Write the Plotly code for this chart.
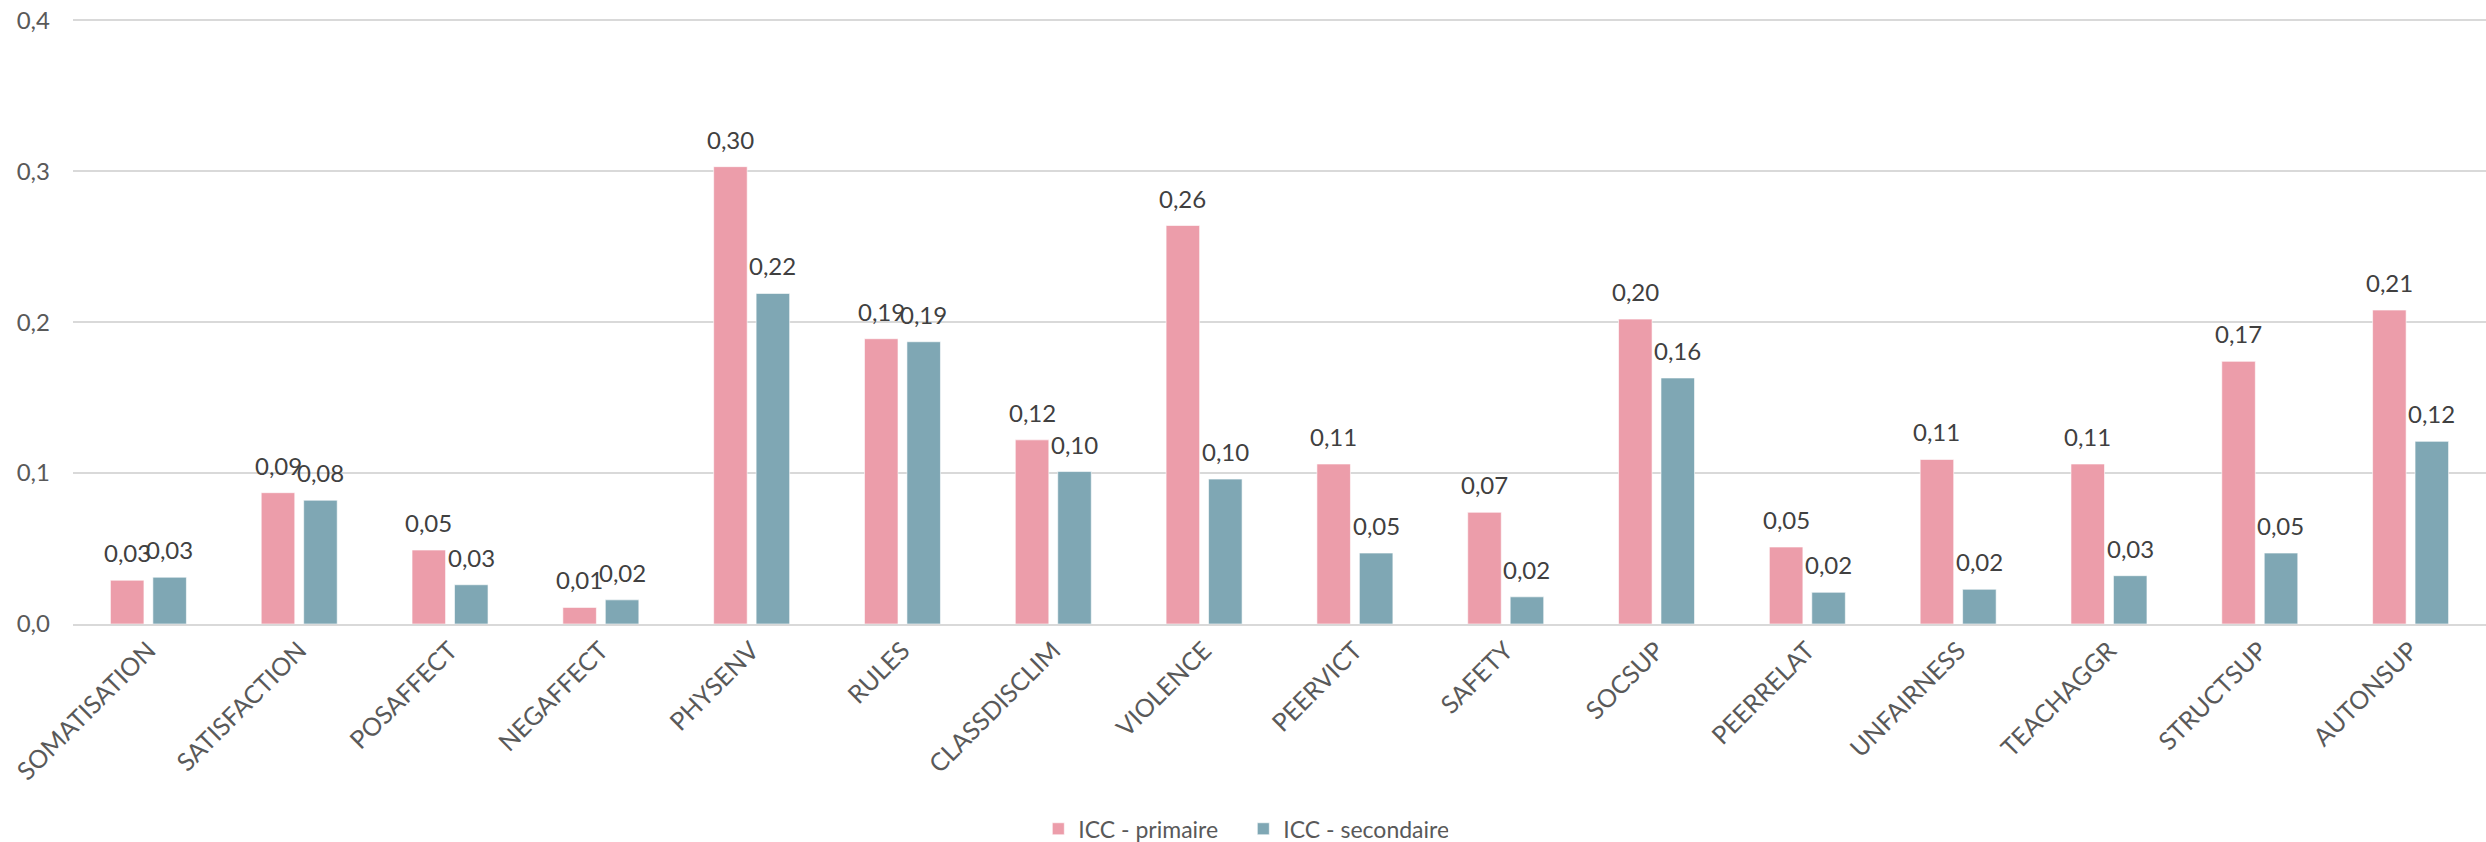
import plotly.graph_objects as go

categories = ["SOMATISATION", "SATISFACTION", "POSAFFECT", "NEGAFFECT", "PHYSENV", "RULES",
              "CLASSDISCLIM", "VIOLENCE", "PEERVICT", "SAFETY", "SOCSUP", "PEERRELAT",
              "UNFAIRNESS", "TEACHAGGR", "STRUCTSUP", "AUTONSUP"]
icc_primaire = [0.029, 0.087, 0.049, 0.011, 0.303, 0.189, 0.122, 0.264, 0.106, 0.074,
                0.202, 0.051, 0.109, 0.106, 0.174, 0.208]
icc_secondaire = [0.031, 0.082, 0.026, 0.016, 0.219, 0.187, 0.101, 0.096, 0.047, 0.018,
                  0.163, 0.021, 0.023, 0.032, 0.047, 0.121]
y_ticks = [0.0, 0.1, 0.2, 0.3, 0.4]
y_ticktext = ["0,0", "0,1", "0,2", "0,3", "0,4"]

FONT = "Lato"
TXT = "#595959"

fig = go.Figure()
series = [("ICC - primaire", icc_primaire, "#EC9DAA", -21.2),
          ("ICC - secondaire", icc_secondaire, "#7FA7B4", 21.2)]
for name, vals, col, dx in series:
    fig.add_trace(go.Bar(
        x=categories, y=vals, name=name,
        marker=dict(color=col, line=dict(color="rgba(255,255,255,0.6)", width=1)),
        hoverinfo="x+y",
    ))
    for c, v in zip(categories, vals):
        fig.add_annotation(
            x=c, y=v, text=f"{v:.2f}".replace(".", ","), showarrow=False,
            xanchor="center", yanchor="bottom", xshift=dx, yshift=11,
            font=dict(family=FONT, size=24, color="#404040"),
        )

fig.update_layout(
    width=2486, height=842,
    paper_bgcolor="white", plot_bgcolor="white",
    margin=dict(l=73, r=0, t=18, b=218, autoexpand=False),
    separators=", ",
    barmode="group", bargap=0.437, bargroupgap=0.21,
    font=dict(family=FONT, size=24, color=TXT),
    showlegend=True,
    legend=dict(orientation="h", x=0.485, xanchor="center", y=-0.338, yanchor="middle",
                font=dict(family=FONT, size=23, color=TXT), itemwidth=30,
                entrywidth=160, traceorder="normal"),
    xaxis=dict(tickangle=-45, showgrid=False, showline=True, linecolor="#D9D9D9",
               linewidth=2, ticks="", tickfont=dict(family=FONT, size=25, color=TXT)),
    yaxis=dict(range=[0, 0.4015], tickmode="array", tickvals=y_ticks, ticktext=y_ticktext,
               showgrid=True, gridcolor="#D9D9D9", gridwidth=2, zeroline=False,
               showline=False, ticks="", ticklabelstandoff=22,
               tickfont=dict(family=FONT, size=24, color=TXT)),
)

fig.write_html("out.html", config={"displayModeBar": False},
               post_script="document.body.style.margin='0';")
